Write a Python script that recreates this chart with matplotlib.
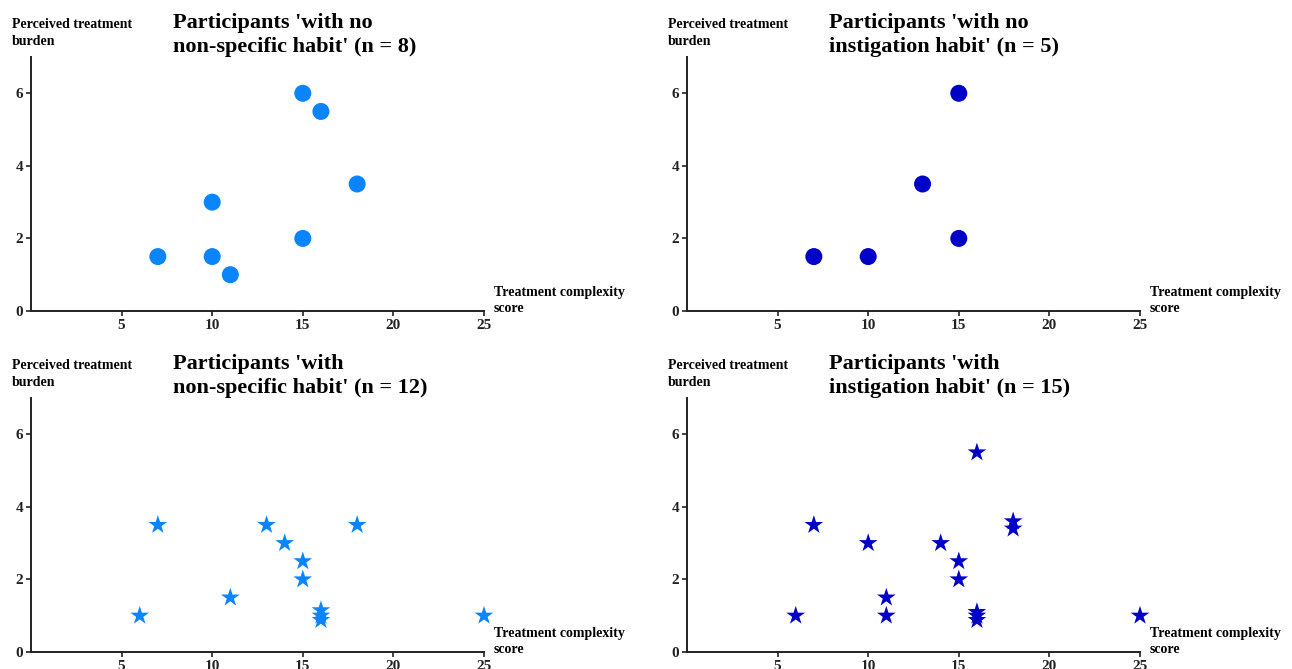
import matplotlib.pyplot as plt

plt.rcParams['font.family'] = ['Liberation Serif', 'DejaVu Serif']
plt.rcParams['font.weight'] = 'bold'

# data: treatment complexity score (x) vs perceived treatment burden (y)
no_nonspec_x = [15, 16, 18, 10, 15, 7, 10, 11]
no_nonspec_y = [6, 5.5, 3.5, 3, 2, 1.5, 1.5, 1]

no_instig_x = [15, 13, 15, 7, 10]
no_instig_y = [6, 3.5, 2, 1.5, 1.5]

nonspec_x = [7, 13, 18, 14, 15, 15, 11, 6, 25, 16, 16, 16]
nonspec_y = [3.5, 3.5, 3.5, 3, 2.5, 2, 1.5, 1, 1, 1.15, 1.0, 0.88]

instig_x = [16, 7, 18, 18, 10, 14, 15, 15, 11, 6, 11, 25, 16, 16, 16]
instig_y = [5.5, 3.5, 3.6, 3.4, 3, 3, 2.5, 2, 1.5, 1, 1, 1, 1.1, 1.0, 0.88]

light_blue = '#0a84ff'
dark_blue = '#0000c8'

panels = [
    (no_nonspec_x, no_nonspec_y, 'o', light_blue, "Participants 'with no\nnon-specific habit' (n = 8)"),
    (no_instig_x, no_instig_y, 'o', dark_blue, "Participants 'with no\ninstigation habit' (n = 5)"),
    (nonspec_x, nonspec_y, '*', light_blue, "Participants 'with\nnon-specific habit' (n = 12)"),
    (instig_x, instig_y, '*', dark_blue, "Participants 'with\ninstigation habit' (n = 15)"),
]

W, H = 1292, 669
fig = plt.figure(figsize=(W / 100, H / 100), dpi=100)

lefts = [31, 687]
bottoms = [311, 652]
ax_w = 453
ax_h = 254

for i, (xs, ys, mk, col, title) in enumerate(panels):
    r, c = divmod(i, 2)
    l = lefts[c]
    b = bottoms[r]
    ax = fig.add_axes([l / W, 1 - b / H, ax_w / W, ax_h / H])
    size = 150 if mk == 'o' else 200
    ax.scatter(xs, ys, marker=mk, s=size, color=col, edgecolors='none', clip_on=False)
    ax.set_xlim(0, 25)
    ax.set_ylim(0, 7)
    ax.set_xticks([5, 10, 15, 20, 25])
    ax.set_yticks([0, 2, 4, 6])
    ax.spines['top'].set_visible(False)
    ax.spines['right'].set_visible(False)
    for s in ['left', 'bottom']:
        ax.spines[s].set_linewidth(1.4)
        ax.spines[s].set_color('#222222')
    ax.tick_params(length=3.5, width=1.2, labelsize=11, pad=2, colors='#222222')
    for t in ax.get_xticklabels() + ax.get_yticklabels():
        t.set_fontweight('bold')
    ax.text(1.022, 0.10, 'Treatment complexity\nscore', transform=ax.transAxes,
            fontsize=10, fontweight='bold', ha='left', va='top', linespacing=1.35)
    fig.text((l - 19) / W, 1 - (b - 293) / H, 'Perceived treatment\nburden',
             fontsize=10, fontweight='bold', ha='left', va='top', linespacing=1.4)
    fig.text((l + 142) / W, 1 - (b - 298) / H, title,
             fontsize=16, fontweight='bold', ha='left', va='top', linespacing=1.25)

fig.savefig('out.png', dpi=100)
